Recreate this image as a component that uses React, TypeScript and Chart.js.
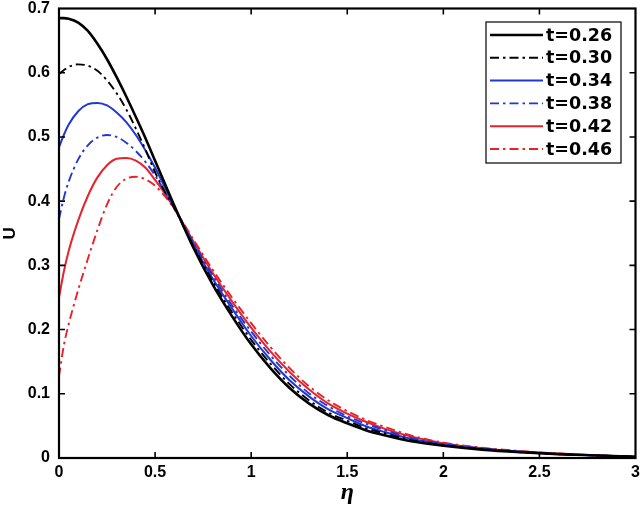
import React, { useEffect, useRef } from "react";
import { Chart, registerables } from "chart.js";

Chart.register(...registerables);

const eta = [0, 0.025, 0.05, 0.1, 0.15, 0.2, 0.25, 0.3, 0.35, 0.4, 0.45, 0.5, 0.55, 0.6, 0.7, 0.8, 0.9, 1.0, 1.1, 1.2, 1.3, 1.4, 1.5, 1.6, 1.7, 1.8, 1.9, 2.0, 2.2, 2.4, 2.6, 2.8, 3.0];

const u026 = [0.685, 0.685, 0.684, 0.678, 0.665, 0.645, 0.621, 0.593, 0.563, 0.531, 0.498, 0.463, 0.428, 0.393,
  0.327, 0.27, 0.221, 0.177, 0.14, 0.109, 0.085, 0.067, 0.054, 0.043, 0.035, 0.028, 0.023, 0.019, 0.013, 0.009, 0.006, 0.004, 0.002];
const u030 = [0.598, 0.604, 0.609, 0.613, 0.611, 0.603, 0.588, 0.568, 0.543, 0.513, 0.48, 0.445, 0.415, 0.389,
  0.33, 0.275, 0.227, 0.184, 0.147, 0.115, 0.09, 0.071, 0.058, 0.046, 0.038, 0.03, 0.024, 0.02, 0.014, 0.009, 0.006, 0.004, 0.002];
const u034 = [0.484, 0.503, 0.519, 0.54, 0.551, 0.553, 0.549, 0.538, 0.523, 0.503, 0.479, 0.452, 0.422, 0.391,
  0.332, 0.279, 0.233, 0.19, 0.153, 0.121, 0.096, 0.076, 0.062, 0.049, 0.04, 0.032, 0.026, 0.021, 0.014, 0.01, 0.006, 0.004, 0.002];
const u038 = [0.372, 0.405, 0.43, 0.465, 0.487, 0.499, 0.503, 0.5, 0.491, 0.478, 0.461, 0.44, 0.415, 0.39,
  0.335, 0.284, 0.238, 0.197, 0.16, 0.128, 0.101, 0.081, 0.065, 0.053, 0.043, 0.034, 0.027, 0.022, 0.015, 0.01, 0.006, 0.004, 0.002];
const u042 = [0.25, 0.29, 0.322, 0.37, 0.408, 0.437, 0.456, 0.466, 0.467, 0.463, 0.452, 0.433, 0.412, 0.389,
  0.337, 0.288, 0.244, 0.203, 0.166, 0.134, 0.107, 0.085, 0.069, 0.056, 0.045, 0.036, 0.029, 0.023, 0.015, 0.01, 0.007, 0.004, 0.002];
const u046 = [0.127, 0.175, 0.208, 0.262, 0.31, 0.355, 0.395, 0.422, 0.435, 0.438, 0.434, 0.424, 0.408, 0.388,
  0.34, 0.293, 0.25, 0.21, 0.173, 0.14, 0.112, 0.09, 0.073, 0.059, 0.048, 0.038, 0.03, 0.024, 0.016, 0.011, 0.007, 0.004, 0.002];

const seriesLabels = ["t=0.26", "t=0.30", "t=0.34", "t=0.38", "t=0.42", "t=0.46"];
const seriesValues = [u026, u030, u034, u038, u042, u046];
const seriesColors = ["#000000", "#000000", "#2236d4", "#2236d4", "#e8222a", "#e8222a"];
const seriesDashed = [false, true, false, true, false, true];
const seriesWidths = [2.6, 1.9, 2.0, 1.9, 2.0, 1.9];

const DASH = [9, 4, 2.5, 4];

const framePlugin = {
  id: "frameTicks",
  afterDatasetsDraw(chart: any) {
    const { ctx, chartArea } = chart;
    const { left, right, top, bottom } = chartArea;
    const xs = chart.scales.x;
    const ys = chart.scales.y;
    ctx.save();
    ctx.strokeStyle = "#000";
    ctx.lineWidth = 1.6;
    const L = 6;
    xs.ticks.forEach((t: any) => {
      const px = xs.getPixelForValue(t.value);
      if (Math.abs(px - left) < 2 || Math.abs(px - right) < 2) return;
      ctx.beginPath();
      ctx.moveTo(px, bottom);
      ctx.lineTo(px, bottom - L);
      ctx.moveTo(px, top);
      ctx.lineTo(px, top + L);
      ctx.stroke();
    });
    ys.ticks.forEach((t: any) => {
      const py = ys.getPixelForValue(t.value);
      if (Math.abs(py - top) < 2 || Math.abs(py - bottom) < 2) return;
      ctx.beginPath();
      ctx.moveTo(left, py);
      ctx.lineTo(left + L, py);
      ctx.moveTo(right, py);
      ctx.lineTo(right - L, py);
      ctx.stroke();
    });
    ctx.lineWidth = 2.2;
    ctx.strokeRect(left, top, right - left, bottom - top);
    ctx.restore();
  },
};

const legendPlugin = {
  id: "boxLegend",
  afterDraw(chart: any) {
    const { ctx } = chart;
    const bx = 486;
    const by = 22;
    const bw = 135;
    const bh = 141;
    ctx.save();
    ctx.fillStyle = "#fff";
    ctx.fillRect(bx, by, bw, bh);
    ctx.strokeStyle = "#000";
    ctx.lineWidth = 1.2;
    ctx.strokeRect(bx, by, bw, bh);
    ctx.font = "bold 17.5px 'DejaVu Sans', sans-serif";
    ctx.textBaseline = "middle";
    ctx.textAlign = "left";
    chart.data.datasets.forEach((ds: any, i: number) => {
      const y = 35 + i * 22.8;
      ctx.beginPath();
      ctx.strokeStyle = ds.borderColor;
      ctx.lineWidth = ds.borderWidth;
      ctx.setLineDash(ds.borderDash || []);
      ctx.moveTo(490, y);
      ctx.lineTo(543, y);
      ctx.stroke();
      ctx.setLineDash([]);
      ctx.fillStyle = "#000";
      ctx.fillText(ds.label, 546, y + 1);
    });
    ctx.restore();
  },
};

const fmt = (v: any) => String(Math.round(Number(v) * 10) / 10);

export default function App() {
  const ref = useRef<HTMLCanvasElement | null>(null);
  useEffect(() => {
    if (!ref.current) return;
    const datasets = seriesLabels.map((label, i) => ({
      label,
      data: eta.map((x, j) => ({ x, y: seriesValues[i][j] })),
      borderColor: seriesColors[i],
      backgroundColor: seriesColors[i],
      borderWidth: seriesWidths[i],
      borderDash: seriesDashed[i] ? DASH : [],
      pointRadius: 0,
      fill: false,
      cubicInterpolationMode: "monotone" as const,
    }));
    const tickFont = { family: "'Liberation Sans', Arial, sans-serif", size: 16, weight: "bold" as const };
    const chart = new Chart(ref.current, {
      type: "line",
      data: { datasets },
      plugins: [framePlugin, legendPlugin],
      options: {
        animation: false,
        responsive: false,
        devicePixelRatio: 1,
        layout: { padding: { top: 8.5, right: 4.5, left: 0, bottom: 0 } },
        plugins: { legend: { display: false }, tooltip: { enabled: false } },
        scales: {
          x: {
            type: "linear",
            min: 0,
            max: 3,
            ticks: { stepSize: 0.5, color: "#000", font: tickFont, padding: 5, maxRotation: 0, callback: fmt },
            grid: { display: false, drawTicks: false },
            border: { display: false },
            title: {
              display: true,
              text: "η",
              color: "#000",
              font: { family: "'Liberation Serif', 'Times New Roman', serif", size: 24, weight: "bold", style: "italic" },
              padding: { top: 0, bottom: 6 },
            },
            afterFit: (s: any) => { s.height = 55; s.paddingLeft = 0; s.paddingRight = 0; },
          },
          y: {
            type: "linear",
            min: 0,
            max: 0.7,
            ticks: { stepSize: 0.1, color: "#000", font: tickFont, padding: 9, callback: fmt },
            grid: { display: false, drawTicks: false },
            border: { display: false },
            title: {
              display: true,
              text: "U",
              color: "#000",
              font: { family: "'Liberation Sans', Arial, sans-serif", size: 17, weight: "bold" },
              padding: { top: 0, bottom: 0 },
            },
            afterFit: (s: any) => { s.width = 59; s.paddingTop = 0; s.paddingBottom = 0; },
          },
        },
      },
    });
    return () => chart.destroy();
  }, []);
  return (
    <div style={{ position: "absolute", left: 0, top: 0, width: 640, height: 513, background: "#fff" }}>
      <canvas ref={ref} width={640} height={513} style={{ width: 640, height: 513, display: "block" }} />
    </div>
  );
}
